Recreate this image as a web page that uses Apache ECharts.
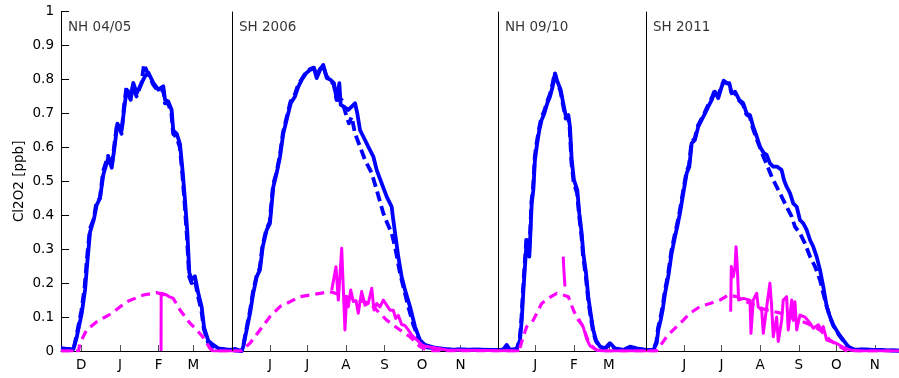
<!DOCTYPE html>
<html>
<head>
<meta charset="utf-8">
<script src="https://cdn.jsdelivr.net/npm/echarts@6/dist/echarts.min.js"></script>
<style>
html,body{margin:0;padding:0;background:#fff;}
#chart{width:899px;height:378px;}
</style>
</head>
<body>
<div id="chart"></div>
<script>
// x axis: days on a concatenated time axis (four seasons placed side by side)
const xMax = 672.6;
const panelStarts = [0, 137.2, 350.7, 469.5];
const panelNames = ['NH 04/05', 'SH 2006', 'NH 09/10', 'SH 2011'];
const monthTickDays = [16.3, 47.3, 78.3, 106.3, 167.7, 197.7, 228.7, 259.7, 289.7, 320.7, 380.7, 411.7, 439.7, 500.2, 530.2, 561.2, 592.2, 622.2, 653.2];
const monthTickLabels = ['D','J','F','M','J','J','A','S','O','N','J','F','M','J','J','A','S','O','N'];

// blue solid
const blueSolid = [
[0,0.008],[9.9,0.005],[12.6,0.04],[16.6,0.11],[19.3,0.18],[21.1,0.26],[23.3,0.35],[26.5,0.39],[28.6,0.43],[31.3,0.45],[34,0.52],[38,0.57],[40.7,0.54],[43.3,0.61],[45.2,0.67],[48.7,0.65],[50.6,0.71],[52.7,0.77],[55.9,0.74],[58,0.79],[60.8,0.76],[64.8,0.79],[67.4,0.81],[70.1,0.82],[74.1,0.79],[78.1,0.77],[82.1,0.78],[83.5,0.74],[86.1,0.735],[88.8,0.71],[90.1,0.65],[92.9,0.64],[95.5,0.61],[97.6,0.53],[99.5,0.445],[101.4,0.35],[103,0.23],[104.9,0.21],[107.5,0.22],[110.2,0.17],[112.9,0.13],[114.8,0.07],[118.2,0.03],[122.2,0.018],[126.2,0.008],[135.6,0.003],
[140,0.006],[143,0.002],[145,0.0],[146.3,0.013],[149,0.062],[151.7,0.111],[154.3,0.17],[157.1,0.219],[159.7,0.239],[161.9,0.307],[165.1,0.357],[167.7,0.376],[170.4,0.484],[173.1,0.524],[175.8,0.573],[178.4,0.641],[181.1,0.681],[184.4,0.73],[187.8,0.75],[190.5,0.779],[193.2,0.799],[196.6,0.818],[199.8,0.828],[203.1,0.833],[205.2,0.804],[207.9,0.828],[210.5,0.843],[213.3,0.804],[215.9,0.8],[219.1,0.789],[221.3,0.74],[223.4,0.789],[224.5,0.725],[227.1,0.72],[230.6,0.71],[233.3,0.72],[236,0.73],[237.8,0.7],[240,0.651],[242.6,0.632],[246.6,0.602],[250.7,0.573],[253.4,0.533],[257.4,0.494],[261.4,0.455],[265.4,0.425],[266.7,0.386],[268.9,0.327],[270.7,0.278],[273.4,0.219],[276.1,0.18],[280.1,0.131],[284.1,0.072],[288.1,0.032],[292.1,0.018],[298.8,0.011],[309.6,0.005],[350.5,0.003],
[355,0.004],[357.7,0.018],[360,0.005],[365.7,0.005],[368.4,0.032],[369.8,0.091],[371,0.17],[372.4,0.249],[373.8,0.327],[375.9,0.278],[377,0.366],[377.8,0.435],[379.1,0.474],[380.4,0.563],[381.8,0.602],[383.9,0.651],[385.8,0.681],[387.9,0.7],[390.3,0.73],[392.5,0.75],[394.6,0.779],[396.5,0.818],[397.9,0.799],[399.5,0.8],[401.1,0.769],[403.1,0.73],[405.3,0.69],[407.2,0.695],[408.5,0.661],[409.9,0.563],[411.7,0.504],[414.4,0.474],[416,0.406],[417.9,0.347],[419.2,0.288],[421.4,0.229],[423.2,0.16],[425.1,0.111],[427.2,0.062],[429.4,0.032],[432.6,0.013],[436.6,0.008],[440.6,0.023],[444.6,0.008],[451.3,0.003],[456.7,0.013],[462,0.008],[469.5,0.003],
[475.4,0.003],[478.1,0.023],[479.4,0.062],[481.3,0.091],[482.9,0.121],[484.8,0.17],[487.4,0.219],[490.1,0.288],[492.8,0.337],[494.6,0.366],[496.8,0.406],[499,0.455],[502.2,0.524],[504.3,0.543],[506.2,0.612],[508.8,0.622],[511.5,0.661],[514.2,0.681],[516.9,0.7],[519.5,0.72],[522.3,0.74],[524.9,0.764],[527.5,0.745],[530.3,0.779],[532.1,0.794],[534.3,0.789],[536.4,0.789],[538.3,0.759],[541,0.764],[544.4,0.74],[547.6,0.73],[550.3,0.7],[553,0.695],[555.6,0.661],[558.4,0.632],[561,0.602],[564.2,0.583],[566.4,0.578],[569,0.553],[571.7,0.543],[574.9,0.543],[578.4,0.533],[580.3,0.504],[582.4,0.484],[585.1,0.465],[587.7,0.435],[590.5,0.425],[593.1,0.386],[595.8,0.376],[598.5,0.357],[601.2,0.327],[603.8,0.307],[606.5,0.278],[609.2,0.239],[611.8,0.19],[614.6,0.131],[617.2,0.101],[619.8,0.077],[623.9,0.052],[627.9,0.032],[631.9,0.013],[635.9,0.005],[646.6,0.004],[672.6,0.001]
];

// blue dashed
const blueDashed = [
[0,0.008],[10,0.004],[12.4,0.045],[16.4,0.12],[19,0.19],[21,0.28],[23.2,0.36],[26.3,0.39],[28.5,0.44],[31.2,0.45],[33.8,0.53],[37.8,0.575],[40.6,0.54],[43.2,0.62],[45,0.67],[48.6,0.64],[50.5,0.72],[52.6,0.78],[55.8,0.74],[57.8,0.785],[60.6,0.75],[64.6,0.79],[66.6,0.845],[70,0.815],[74,0.785],[78,0.765],[82,0.77],[83.4,0.73],[86,0.73],[88.6,0.7],[90,0.64],[92.8,0.63],[95.4,0.6],[97.4,0.52],[99.3,0.43],[101.2,0.33],[102.8,0.22],[104.8,0.2],[107.4,0.21],[110,0.16],[112.7,0.12],[114.6,0.065],[118,0.025],[122,0.012],[126,0.005],[137.2,0.002],
[145,0.0],[146.2,0.015],[148.8,0.065],[151.5,0.115],[154.1,0.175],[156.9,0.22],[159.5,0.245],[161.7,0.31],[164.9,0.36],[167.5,0.38],[170.2,0.49],[172.9,0.525],[175.6,0.575],[178.2,0.645],[180.9,0.685],[184.2,0.735],[187.6,0.755],[190.3,0.785],[193,0.8],[196.4,0.82],[199.6,0.83],[202.9,0.835],[205,0.81],[207.7,0.83],[210.3,0.84],[213.1,0.81],[215.7,0.8],[218.9,0.785],[221.3,0.74],[225.3,0.74],[229.3,0.69],[231.1,0.671],[233.3,0.69],[236,0.641],[240,0.602],[244,0.563],[249.4,0.524],[253.4,0.474],[258.7,0.406],[261.4,0.381],[265.4,0.347],[268.1,0.307],[272.1,0.229],[274.7,0.19],[278.7,0.131],[282.8,0.077],[288.1,0.027],[293.5,0.011],[309.6,0.005],[350.5,0.003],
[355,0.004],[357.7,0.015],[360,0.005],[365.7,0.005],[368.2,0.035],[369.6,0.1],[370.8,0.18],[372.2,0.26],[373.6,0.335],[375.7,0.29],[376.8,0.37],[377.6,0.44],[378.9,0.48],[380.2,0.57],[381.6,0.61],[383.7,0.655],[385.6,0.69],[387.7,0.705],[390.1,0.735],[392.3,0.755],[394.4,0.785],[396.3,0.82],[397.7,0.8],[399.3,0.795],[400.9,0.765],[402.9,0.725],[405.1,0.685],[407,0.69],[408.3,0.655],[409.7,0.555],[411.5,0.495],[414.2,0.465],[415.8,0.4],[417.7,0.34],[419,0.28],[421.2,0.22],[423,0.155],[424.9,0.105],[427,0.058],[429.2,0.03],[432.4,0.012],[436.6,0.006],[440.6,0.02],[444.6,0.006],[451.3,0.003],[456.7,0.01],[462,0.006],[469.5,0.003],
[475.4,0.003],[477.9,0.028],[479.2,0.068],[481.1,0.098],[482.7,0.128],[484.6,0.176],[487.2,0.225],[489.9,0.295],[492.6,0.343],[494.4,0.372],[496.6,0.412],[498.8,0.46],[502,0.528],[504.1,0.548],[506,0.616],[508.6,0.626],[511.3,0.665],[514,0.684],[516.7,0.703],[519.3,0.724],[522.1,0.744],[524.7,0.768],[527.3,0.75],[530.1,0.78],[531.9,0.796],[534.1,0.79],[536.2,0.785],[538.1,0.762],[540.8,0.76],[544.2,0.738],[547.4,0.726],[550.1,0.697],[552.8,0.69],[555.4,0.655],[558.2,0.625],[561,0.6],[563.7,0.573],[566.4,0.55],[570.4,0.514],[574.4,0.484],[578.4,0.455],[582.4,0.425],[586.5,0.396],[589.1,0.366],[593.1,0.347],[597.1,0.317],[601.2,0.278],[605.2,0.249],[609.2,0.209],[611.8,0.17],[614.6,0.131],[617.2,0.1],[619.8,0.075],[623.9,0.05],[627.9,0.03],[631.9,0.012],[635.9,0.005],[646.6,0.004],[672.6,0.001]
];

// magenta dashed
const magentaDashed = [
[0,0],[14,0],[15.2,0.023],[20.6,0.062],[28.7,0.086],[40.7,0.111],[52.7,0.145],[66.1,0.165],[76.8,0.172],[83.5,0.165],[90.1,0.155],[95.5,0.121],[103.5,0.082],[108.9,0.062],[114.2,0.04],[119.6,0.008],[122,0],[145,0],
[151.7,0.023],[159.7,0.062],[167.7,0.101],[175.8,0.131],[183.8,0.145],[191.8,0.16],[199.8,0.165],[207.9,0.17],[215.9,0.175],[229.3,0.16],[248,0.14],[261.4,0.091],[272.1,0.062],[280.1,0.042],[288.1,0.013],[293.5,0.003],[300,0],[365,0],
[368,0.005],[371,0.042],[373.8,0.072],[379.1,0.091],[385.8,0.14],[391.1,0.155],[397.9,0.17],[403.1,0.165],[407.2,0.16],[411.2,0.121],[415.2,0.091],[419.2,0.072],[421.9,0.042],[424.6,0.018],[429.9,0.003],[435,0],[478,0],
[479.4,0.005],[486.1,0.042],[491.4,0.062],[499.5,0.091],[504.8,0.111],[512.9,0.131],[520.9,0.14],[528.9,0.15],[535.6,0.165],[542.3,0.16],[550.3,0.145],[558.4,0.131],[566.4,0.121],[578.4,0.111],[587.7,0.096],[598.5,0.082],[609.2,0.062],[617.2,0.032],[625.2,0.013],[630.6,0],[672.6,0]
];

// magenta solid (null = no data)
const magentaSolid = [
[0,0],[10,0],[11,null],
[80.3,0],[80.4,0.17],[84.8,0.165],[87.5,0.158],[88,null],
[119.6,0.008],[122,0],[145,0],[146,null],
[217.3,0.18],[220.7,0.248],[222.6,0.15],[225.3,0.303],[226.6,0.3],[227.9,0.062],[229.3,0.16],[230.6,0.13],[232.5,0.18],[234.6,0.146],[236.8,0.148],[238.6,0.111],[241.3,0.175],[244,0.135],[246.6,0.14],[249.4,0.185],[251.2,0.121],[253.4,0.14],[256,0.13],[258.7,0.15],[261.4,0.135],[264.1,0.12],[266.7,0.12],[268.6,0.096],[270.7,0.105],[273.4,0.078],[276.1,0.075],[278.7,0.062],[281.5,0.047],[285.5,0.033],[289.5,0.018],[293.5,0.013],[301.5,0.008],[310,0.003],[368,0],[369,null],
[403.1,0.278],[403.6,0.24],[404.5,0.19],[405,null],
[415.5,0.095],[419.2,0.07],[422,0.035],[424.6,0.015],[429.9,0.003],[435,0],[478,0],[479,null],
[537.5,0.116],[538,0.249],[539.6,0.219],[541,0.249],[541.8,0.307],[542.8,0.249],[543.9,0.15],[547.6,0.155],[553,0.15],[553.8,0.052],[555.6,0.15],[558.4,0.17],[559.6,0.13],[562.4,0.12],[563.7,0.052],[566.4,0.13],[569,0.2],[570.4,0.13],[571.7,0.042],[574.4,0.1],[575.7,0.028],[578.4,0.09],[579.7,0.15],[582.4,0.16],[583.7,0.062],[586.5,0.15],[587.7,0.09],[589.1,0.145],[590.5,0.062],[593.1,0.106],[597.1,0.1],[601.2,0.082],[603.8,0.067],[607.9,0.077],[610.5,0.062],[611.8,0.072],[614.6,0.032],[618.6,0.027],[622.6,0.022],[627.9,0.011],[633.3,0.003],[640,0],[672.6,0]
];

const FONT = 'DejaVu Sans';
const FS = 13.5;
const BLUE = '#0000ff';
const MAG = '#ff00ff';

const chart = echarts.init(document.getElementById('chart'), null, {renderer: 'canvas'});
chart.setOption({
  animation: false,
  backgroundColor: '#ffffff',
  textStyle: {fontFamily: FONT},
  grid: {left: 61, right: 0, top: 11.6, bottom: 27, containLabel: false, outerBoundsMode: 'none'},
  xAxis: {
    type: 'value', min: 0, max: xMax,
    axisLine: {show: true, onZero: false, lineStyle: {color: '#000', width: 1}},
    axisTick: {show: true, inside: true, length: 6, customValues: monthTickDays, lineStyle: {color: '#555', width: 1}},
    axisLabel: {show: true, customValues: monthTickDays, margin: 7, color: '#000', fontFamily: FONT, fontSize: FS,
      formatter: function (v) { const i = monthTickDays.indexOf(v); return i >= 0 ? monthTickLabels[i] : ''; }},
    splitLine: {show: false}
  },
  yAxis: {
    type: 'value', min: 0, max: 1, interval: 0.1,
    name: 'Cl2O2 [ppb]', nameLocation: 'middle', nameGap: 35, nameRotate: 90, nameMoveOverlap: false,
    nameTextStyle: {color: '#000', fontFamily: FONT, fontSize: FS},
    axisLine: {show: true, lineStyle: {color: '#000', width: 1}},
    axisTick: {show: true, inside: true, length: 8, lineStyle: {color: '#000', width: 1}},
    axisLabel: {margin: 7, color: '#000', fontFamily: FONT, fontSize: FS,
      formatter: function (v) { return String(+v.toFixed(1)); }},
    splitLine: {show: false}
  },
  series: [
    {type: 'line', name: 'blue solid', data: blueSolid, showSymbol: false, symbol: 'none', z: 2,
      lineStyle: {color: BLUE, width: 3.8, join: 'round'}},
    {type: 'line', name: 'blue dashed', data: blueDashed, showSymbol: false, symbol: 'none', z: 3,
      lineStyle: {color: BLUE, width: 3.8, type: [10, 5], join: 'round'}},
    {type: 'line', name: 'magenta solid', data: magentaSolid, showSymbol: false, symbol: 'none', z: 4, connectNulls: false,
      lineStyle: {color: MAG, width: 3, join: 'round'}},
    {type: 'line', name: 'magenta dashed', data: magentaDashed, showSymbol: false, symbol: 'none', z: 5,
      lineStyle: {color: MAG, width: 3.2, type: [9, 6], join: 'round'}},
    {type: 'scatter', name: 'panels', z: 6, symbolSize: 0,
      data: panelStarts.map((s, i) => ({value: [s, 0.952], name: panelNames[i]})),
      label: {show: true, position: 'right', distance: 7, color: '#000', fontFamily: FONT, fontSize: FS,
        formatter: p => p.name},
      markLine: {silent: true, symbol: 'none', animation: false,
        label: {show: false},
        lineStyle: {color: '#000', width: 1, type: 'solid'},
        data: panelStarts.slice(1).map(s => ({xAxis: s}))}
    }
  ]
});
</script>
</body>
</html>
